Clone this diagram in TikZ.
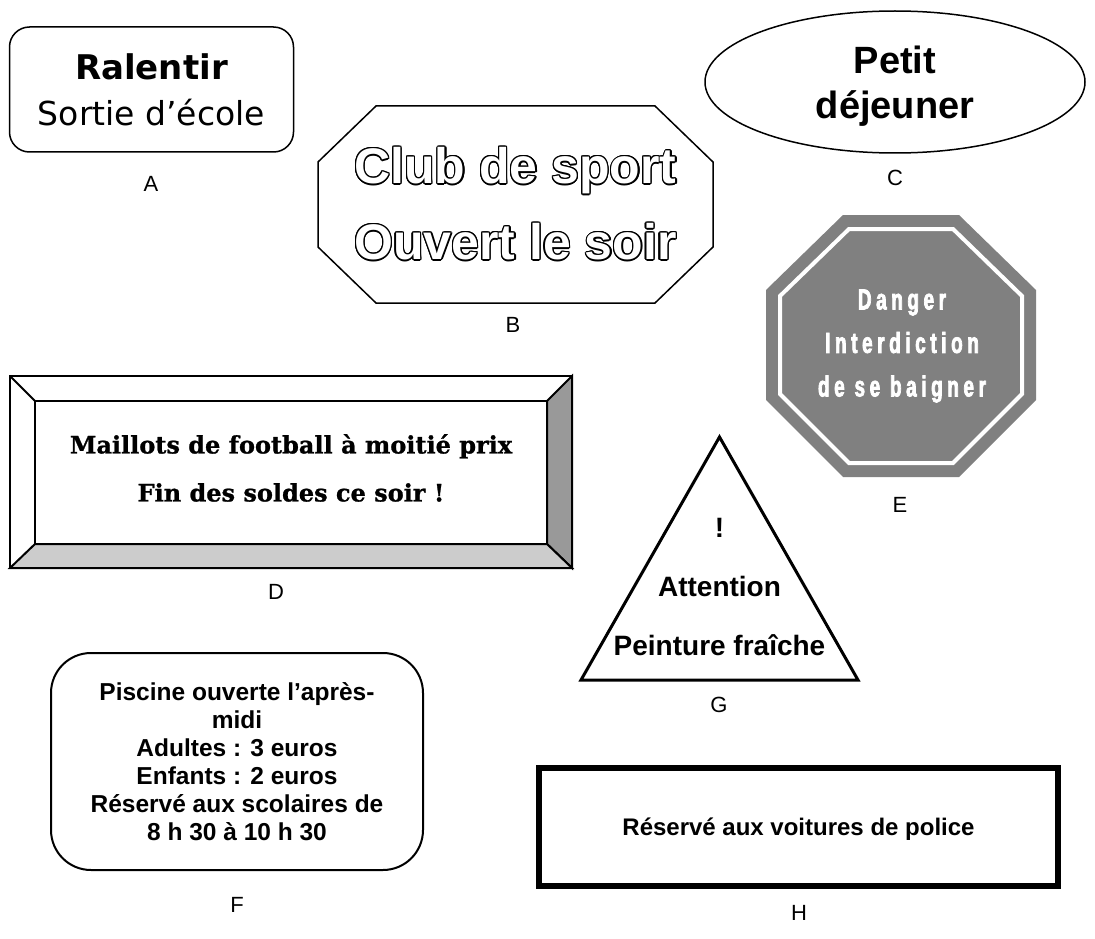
\documentclass[tikz,border=0pt]{standalone}
\usepackage{fontspec}
\setmainfont{Liberation Sans}
\newfontfamily\tahoma{DejaVu Sans}
\newfontfamily\slab[BoldFeatures={FakeBold=1}]{DejaVu Serif}
\newfontfamily\narrow[FakeStretch=0.65,LetterSpace=16,BoldFeatures={FakeBold=2.5}]{Liberation Sans}
\usepackage{contour}
\contourlength{1.3pt}
\usetikzlibrary{shapes.geometric}

\definecolor{signgray}{RGB}{128,128,128}
\definecolor{bevelgray}{RGB}{153,153,153}
\definecolor{bevellight}{RGB}{204,204,204}

\tikzstyle{sign}=[draw,line width=1.5pt,align=center,inner sep=0pt]
\tikzstyle{msg}=[align=center,inner sep=0pt]
\tikzstyle{letter}=[font=\fontsize{22}{22}\selectfont]
\newcommand{\px}{1pt}

\begin{document}
\begin{tikzpicture}[x=\px, y=-\px]
    \useasboundingbox (0,0) rectangle (1095,939);
    % First we draw the signs that are plain nodes
    \node[sign, rounded corners=20pt, minimum width=284, minimum height=125,
          font=\tahoma\fontsize{33}{46}\selectfont] (A) at (151.5,89.5) {{\fontsize{34}{46}\selectfont\bfseries Ralentir}\\Sortie d’école};
    \node[sign, ellipse, minimum width=380, minimum height=142, text depth=0pt,
          font=\bfseries\fontsize{38}{45}\selectfont] (C) at (895,82) {Petit\\déjeuner};
    \node[sign, rounded corners=40pt, line width=2pt, minimum width=372, minimum height=217,
          font=\bfseries\fontsize{24.5}{28}\selectfont] (F) at (237,761.5)
          {Piscine ouverte l’après-\\midi\\Adultes : 3 euros\\Enfants : 2 euros\\Réservé aux scolaires de\\8 h 30 à 10 h 30};
    \node[sign, line width=6pt, minimum width=519, minimum height=118, text depth=0pt,
          font=\bfseries\fontsize{24}{24}\selectfont] (H) at (798.5,826.5) {Réservé aux voitures de police};

    % B: octagon with hollow letters
    \draw[line width=1.5pt] (376,106) -- (655,106) -- (713,162) -- (713,247) -- (655,303)
        -- (376,303) -- (318,247) -- (318,162) -- cycle;
    \node[msg, font=\bfseries\fontsize{50}{76}\selectfont, text=white] (txtB) at (515.5,204.5)
        {\contour{black}{Club de sport}\\\contour{black}{Ouvert le soir}};

    % D: bevelled frame
    \begin{scope}[line width=2pt]
        \filldraw[fill=bevelgray] (547,401) -- (572,376) -- (572,568) -- (547,544) -- cycle;
        \filldraw[fill=bevellight] (10,568) -- (35,544) -- (547,544) -- (572,568) -- cycle;
        \draw (10,376) rectangle (572,568);
        \draw (35,401) rectangle (547,544);
        \draw (10,376) -- (35,401);
    \end{scope}
    \node[msg, font=\slab\bfseries\fontsize{24}{48}\selectfont] (txtD) at (291,468)
        {Maillots de football à moitié prix\\Fin des soldes ce soir !};

    % E: grey stop sign
    \fill[signgray] (843,215) -- (959,215) -- (1036,290) -- (1036,400) -- (959,477)
        -- (843,477) -- (766,400) -- (766,290) -- cycle;
    \draw[white, line width=4pt] (849,229) -- (953,229) -- (1022,296) -- (1022,394) -- (953,463)
        -- (849,463) -- (780,394) -- (780,296) -- cycle;
    \node[msg, font=\narrow\bfseries\fontsize{29}{43.5}\selectfont, text=white] (txtE) at (902,346)
        {Danger\\Interdiction\\de se baigner};

    % G: warning triangle
    \draw[line width=3pt, line join=miter] (719.5,437) -- (858,680) -- (581,680) -- cycle;
    \node[msg, font=\bfseries\fontsize{28}{59}\selectfont] (txtG) at (719.5,587)
        {!\\Attention\\Peinture fraîche};

    % Letters under the signs
    \foreach \pos/\name in {{(151,184)/A}, {(513,325)/B}, {(895,178)/C}, {(276,592)/D},
                            {(900,505)/E}, {(237,905)/F}, {(719,705)/G}, {(799,913)/H}}
        \node[letter] (lbl\name) at \pos {\name};
\end{tikzpicture}
\end{document}
